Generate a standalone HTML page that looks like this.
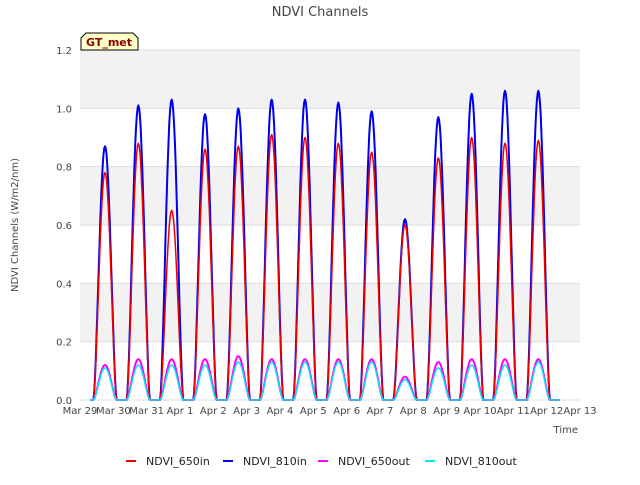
<!DOCTYPE html>
<html><head><meta charset="utf-8"><style>
body{margin:0;background:#fff;font-family:"Liberation Sans",sans-serif}
svg text{font-family:"DejaVu Sans","Liberation Sans",sans-serif}
</style></head><body>
<svg id="c" width="640" height="480" xmlns="http://www.w3.org/2000/svg">
<rect width="640" height="480" fill="#fff"/>
<text x="320" y="16" text-anchor="middle" font-size="13" fill="#444">NDVI Channels</text>
<g id="grid"></g>
<g id="series"></g>
<g id="axes"></g>
<text x="18" y="225" transform="rotate(-90 18 225)" text-anchor="middle" font-size="10" fill="#444">NDVI Channels (W/m2/nm)</text>
<text x="578" y="433" text-anchor="end" font-size="10" fill="#444">Time</text>
<g>
<path d="M81,50 L81,38 L86,33 L133,33 L138,38 L138,50 Z" fill="#ffffc8" stroke="#000" stroke-width="1"/>
<text x="109" y="46" text-anchor="middle" font-size="11" font-weight="bold" fill="#8b0000">GT_met</text>
</g>
<g id="legend"></g>
</svg>
<script>
const dayLabels=["Mar 29","Mar 30","Mar 31","Apr 1","Apr 2","Apr 3","Apr 4","Apr 5","Apr 6","Apr 7","Apr 8","Apr 9","Apr 10","Apr 11","Apr 12","Apr 13"];
const yTicks=[0,0.2,0.4,0.6,0.8,1.0,1.2];
const ndvi650in=[0.78,0.88,0.65,0.86,0.87,0.91,0.90,0.88,0.85,0.60,0.83,0.90,0.88,0.89];
const ndvi810in=[0.87,1.01,1.03,0.98,1.00,1.03,1.03,1.02,0.99,0.62,0.97,1.05,1.06,1.06];
const ndvi650out=[0.12,0.14,0.14,0.14,0.15,0.14,0.14,0.14,0.14,0.08,0.13,0.14,0.14,0.14];
const ndvi810out=[0.11,0.12,0.12,0.12,0.13,0.13,0.13,0.13,0.13,0.07,0.11,0.12,0.12,0.13];
const NS="http://www.w3.org/2000/svg";
const X0=80,X1=580,Y0=400,Y1=50;
const xs=d=>X0+(X1-X0)*d/15;
const ys=v=>Y0-(Y0-Y1)*v/1.2;
function mk(t,a,p){const e=document.createElementNS(NS,t);for(const k in a)e.setAttribute(k,a[k]);p.appendChild(e);return e;}
const grid=document.getElementById('grid');
for(let i=0;i<6;i++){if(i%2==1){const r=mk('rect',{x:X0,y:ys(yTicks[i+1]),width:X1-X0,height:ys(yTicks[i])-ys(yTicks[i+1]),fill:'#f2f2f2'},grid);

}}
yTicks.forEach(v=>{const l=mk('line',{x1:X0,x2:X1,y1:ys(v),y2:ys(v),stroke:'#ddd'},grid);

});
const axes=document.getElementById('axes');
yTicks.forEach(v=>{const t=mk('text',{x:X0-8,y:ys(v)+4,'text-anchor':'end','font-size':10,fill:'#444'},axes);t.textContent=v.toFixed(1);

});
dayLabels.forEach((s,i)=>{const t=mk('text',{x:xs(i),y:414,'text-anchor':'middle','font-size':10,fill:'#444'},axes);t.textContent=s;

});
const ser=document.getElementById('series');
function path(arr,color,w,name){
 let d='M'+xs(0.3)+','+ys(0);
 arr.forEach((pk,i)=>{
  const s=i+0.4,e=i+1.1;
  d+=' L'+xs(s).toFixed(1)+','+ys(0);
  for(let k=0;k<=30;k++){const f=k/30;const v=pk*Math.pow(Math.sin(Math.PI*f),1.6);d+=' L'+xs(s+(e-s)*f).toFixed(1)+','+ys(v).toFixed(1);}
 });
 d+=' L'+xs(14.4)+','+ys(0);
 const p=mk('path',{d:d,fill:'none',stroke:color,'stroke-width':w,'stroke-linejoin':'round'},ser);
 
 
}
path(ndvi810in,'#0000ee',2,'series-ndvi-810in');
path(ndvi650in,'#ee0000',1.5,'series-ndvi-650in');
path(ndvi650out,'#ff00ff',2,'series-ndvi-650out');
path(ndvi810out,'#00e5ee',1.5,'series-ndvi-810out');
const lg=document.getElementById('legend');
[["NDVI_650in","#ee0000",126],["NDVI_810in","#0000ee",223],["NDVI_650out","#ff00ff",318],["NDVI_810out","#00e5ee",425]].forEach(([n,c,x])=>{
 const g=mk('g',{},lg);
 
 
 mk('line',{x1:x,x2:x+10,y1:461,y2:461,stroke:c,'stroke-width':2},g);
 const t=mk('text',{x:x+20,y:465,'font-size':11,fill:'#222'},g);t.textContent=n;
});
</script>
</body></html>
